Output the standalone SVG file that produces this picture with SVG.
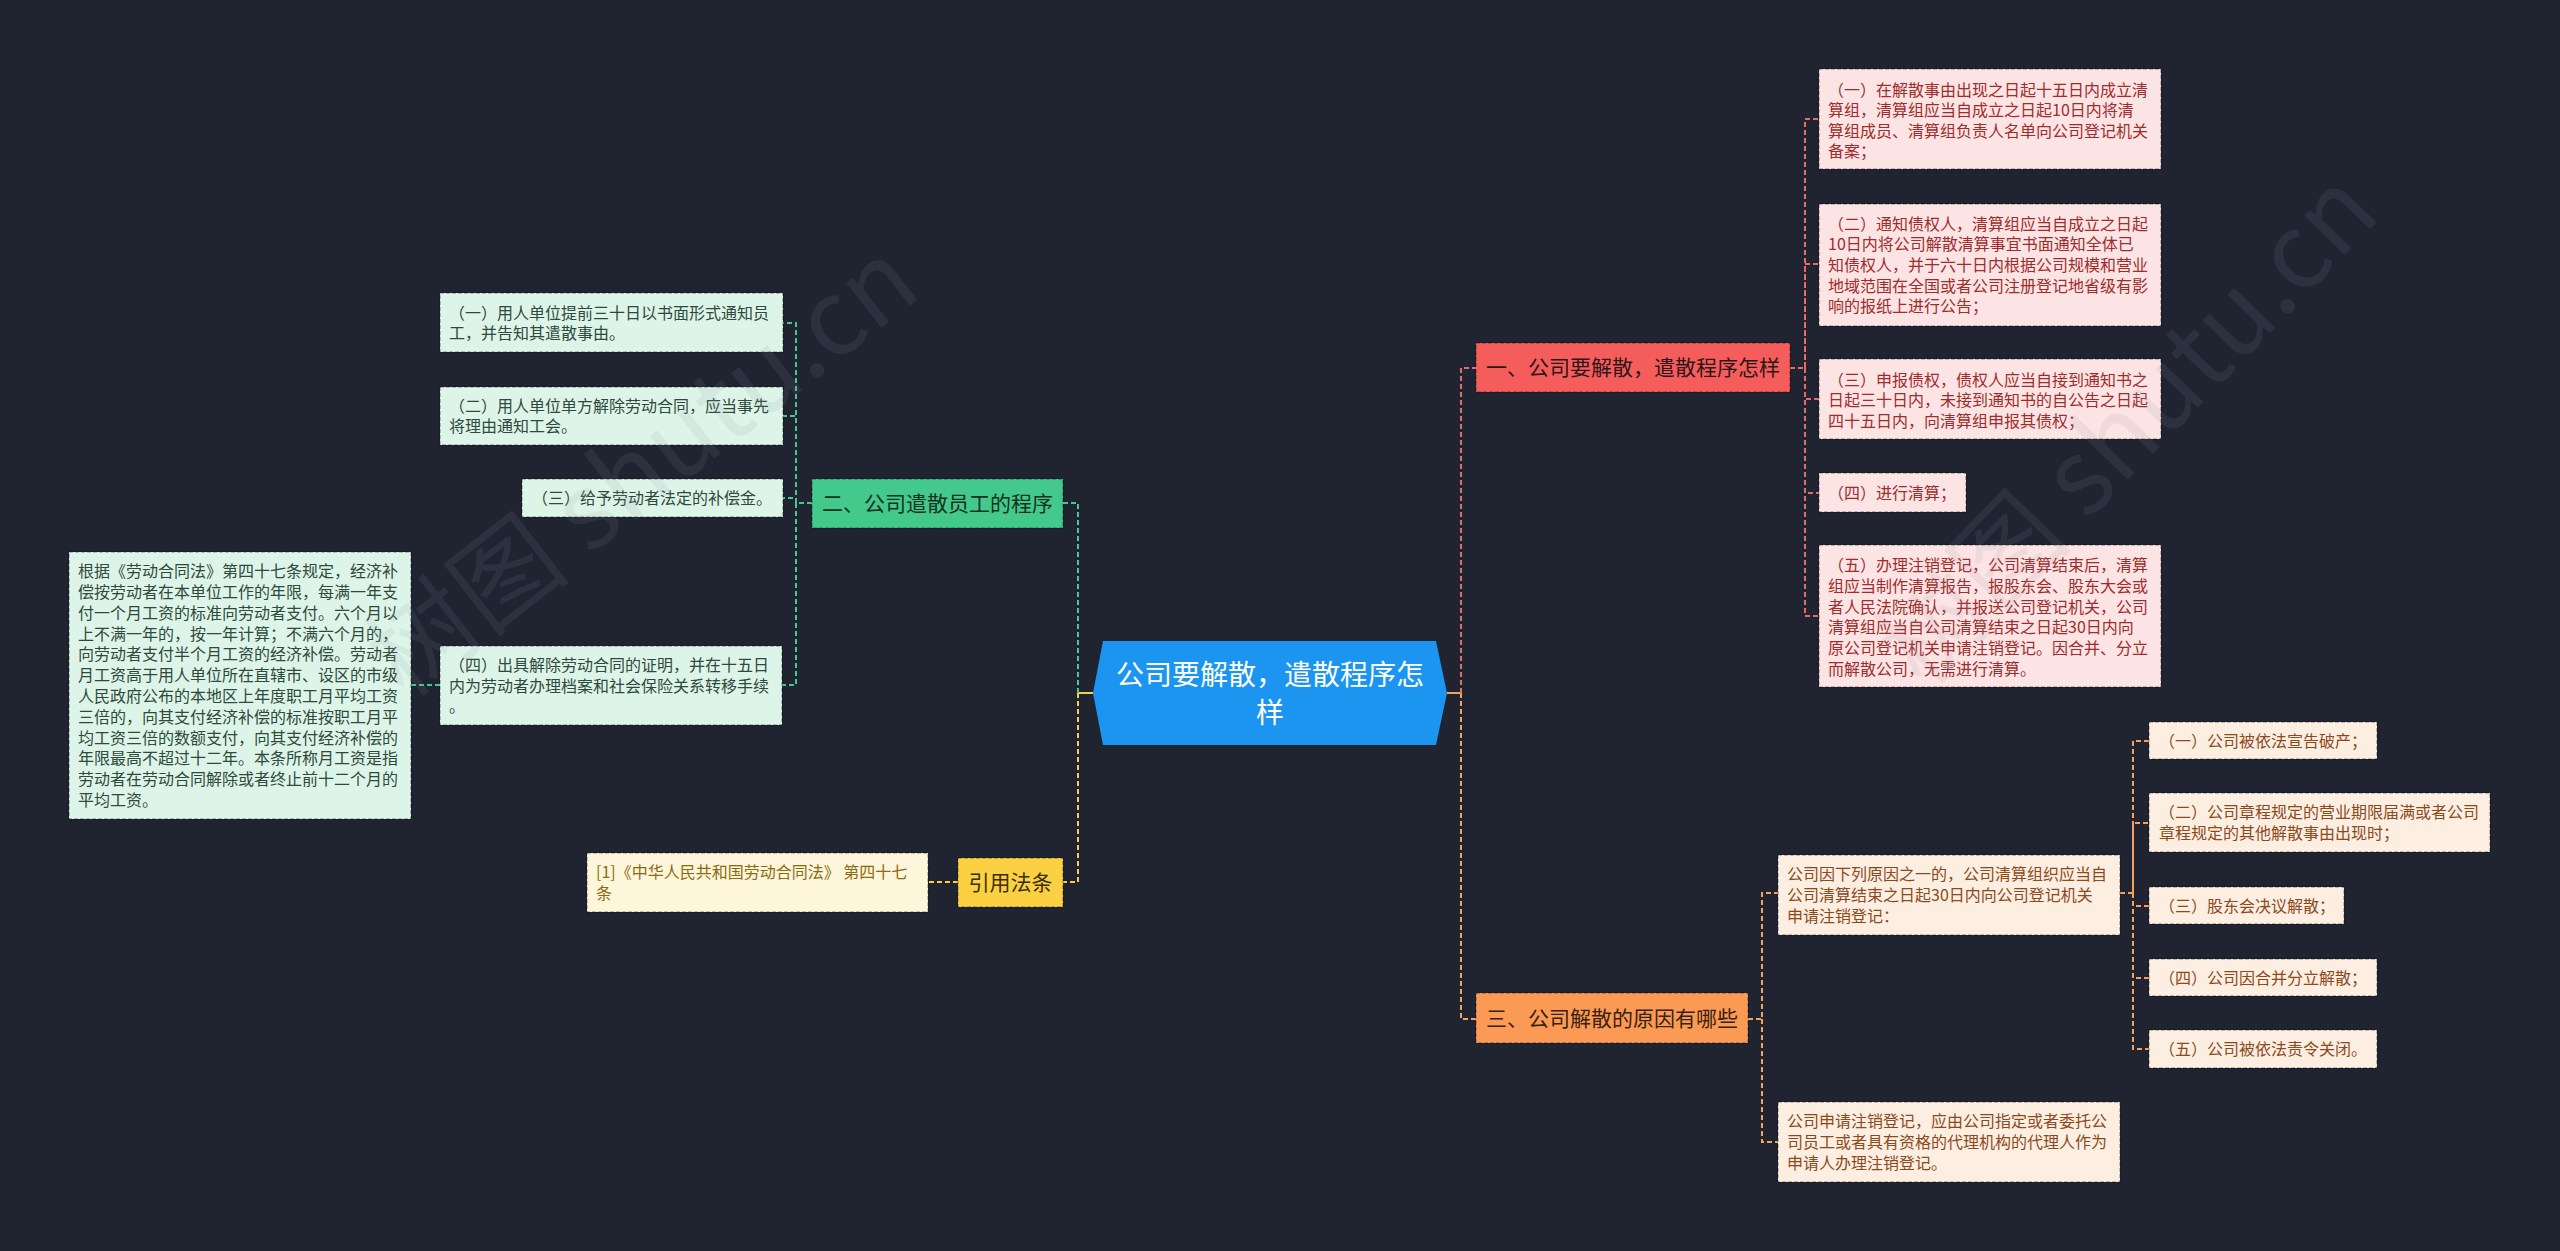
<svg xmlns="http://www.w3.org/2000/svg" width="2560" height="1251" viewBox="0 0 2560 1251">
<style>
text{font-family:"Noto Sans CJK SC","Noto Sans",sans-serif;}
.wm{font-size:105px;fill:#8a8f9c;fill-opacity:0.12;}
.c16{font-size:16px;}
.m21{font-size:21px;}
.box{stroke:#000;stroke-opacity:0.45;stroke-width:1;stroke-dasharray:4 2;}
.rt{fill:#a02c2c;} .rf{fill:#fde4e4;}
.ot{fill:#8c4a1c;} .of{fill:#fdeee2;}
.gt{fill:#2e4a3a;} .gf{fill:#ddf5e9;}
.yt{fill:#8a6c10;} .yf{fill:#fef6da;}
.ln{fill:none;stroke-width:2;stroke-dasharray:5 3;}
.sl{fill:none;stroke-width:2;}
.lr{stroke:#e56a6a;} .lo{stroke:#f4a262;} .lg{stroke:#46c690;} .ly{stroke:#f5cf4a;}
</style>
<rect width="2560" height="1251" fill="#202431"/>

<g id="connectors">
  <path class="sl lo" d="M1447 693 H1461"/>
  <path class="ln lr" d="M1461 693 V368 H1476"/>
  <path class="ln lo" d="M1461 693 V1019 H1476"/>
  <path class="sl ly" d="M1093 693 H1078"/>
  <path class="ln lg" d="M1078 693 V503 H1063"/>
  <path class="ln ly" d="M1078 693 V882 H1063"/>
  <path class="ln lr" d="M1790 368 H1805 V119 H1819"/>
  <path class="ln lr" d="M1805 368 V264 H1819"/>
  <path class="ln lr" d="M1805 368 V399 H1819"/>
  <path class="ln lr" d="M1805 368 V493 H1819"/>
  <path class="ln lr" d="M1805 368 V616 H1819"/>
  <path class="ln lo" d="M1748 1019 H1762 V893 H1778"/>
  <path class="ln lo" d="M1762 1019 V1142 H1778"/>
  <path class="ln lo" d="M2120 893 H2133 V741 H2149"/>
  <path class="ln lo" d="M2133 893 V823 H2149"/>
  <path class="ln lo" d="M2133 893 V906 H2149"/>
  <path class="ln lo" d="M2133 893 V978 H2149"/>
  <path class="ln lo" d="M2133 893 V1049 H2149"/>
  <path class="ln lg" d="M812 503 H796 V323 H783"/>
  <path class="ln lg" d="M796 503 V416 H783"/>
  <path class="ln lg" d="M796 503 V498 H783"/>
  <path class="ln lg" d="M796 503 V685 H782"/>
  <path class="ln lg" d="M440 685 H411"/>
  <path class="ln ly" d="M958 882 H928"/>
</g>

<g id="center">
  <polygon points="1093,693 1103,641 1436,641 1447,693 1436,745 1103,745" fill="#1b95ef"/>
  <text x="1270" y="685" font-size="28" fill="#ffffff" text-anchor="middle">公司要解散，遣散程序怎</text>
  <text x="1270" y="723" font-size="28" fill="#ffffff" text-anchor="middle">样</text>
</g>

<g id="n1">
  <rect class="box" x="1476" y="343" width="314" height="49" fill="#f55d5d"/>
  <text class="m21" x="1633" y="375" fill="#2e1616" text-anchor="middle">一、公司要解散，遣散程序怎样</text>
</g>
<g id="n1-1">
  <rect class="box rf" x="1819" y="69" width="342" height="100"/>
  <text class="c16 rt"><tspan x="1828" y="95.5">（一）在解散事由出现之日起十五日内成立清</tspan><tspan x="1828" y="116">算组，清算组应当自成立之日起10日内将清</tspan><tspan x="1828" y="136.5">算组成员、清算组负责人名单向公司登记机关</tspan><tspan x="1828" y="157">备案；</tspan></text>
</g>
<g id="n1-2">
  <rect class="box rf" x="1819" y="204" width="342" height="122"/>
  <text class="c16 rt"><tspan x="1828" y="229.6">（二）通知债权人，清算组应当自成立之日起</tspan><tspan x="1828" y="250.3">10日内将公司解散清算事宜书面通知全体已</tspan><tspan x="1828" y="271">知债权人，并于六十日内根据公司规模和营业</tspan><tspan x="1828" y="291.7">地域范围在全国或者公司注册登记地省级有影</tspan><tspan x="1828" y="312.4">响的报纸上进行公告；</tspan></text>
</g>
<g id="n1-3">
  <rect class="box rf" x="1819" y="359" width="342" height="80"/>
  <text class="c16 rt"><tspan x="1828" y="385.5">（三）申报债权，债权人应当自接到通知书之</tspan><tspan x="1828" y="406">日起三十日内，未接到通知书的自公告之日起</tspan><tspan x="1828" y="426.5">四十五日内，向清算组申报其债权；</tspan></text>
</g>
<g id="n1-4">
  <rect class="box rf" x="1819" y="473" width="147" height="39"/>
  <text class="c16 rt" x="1828" y="498.5">（四）进行清算；</text>
</g>
<g id="n1-5">
  <rect class="box rf" x="1819" y="545" width="342" height="142"/>
  <text class="c16 rt"><tspan x="1828" y="571">（五）办理注销登记，公司清算结束后，清算</tspan><tspan x="1828" y="592">组应当制作清算报告，报股东会、股东大会或</tspan><tspan x="1828" y="612.5">者人民法院确认，并报送公司登记机关，公司</tspan><tspan x="1828" y="633">清算组应当自公司清算结束之日起30日内向</tspan><tspan x="1828" y="654">原公司登记机关申请注销登记。因合并、分立</tspan><tspan x="1828" y="674.5">而解散公司，无需进行清算。</tspan></text>
</g>

<g id="n3">
  <rect class="box" x="1476" y="993" width="272" height="50" fill="#fb9a55"/>
  <text class="m21" x="1612" y="1025.5" fill="#3a2210" text-anchor="middle">三、公司解散的原因有哪些</text>
</g>
<g id="n3-1">
  <rect class="box of" x="1778" y="855" width="342" height="80"/>
  <text class="c16 ot"><tspan x="1787" y="880">公司因下列原因之一的，公司清算组织应当自</tspan><tspan x="1787" y="901">公司清算结束之日起30日内向公司登记机关</tspan><tspan x="1787" y="922">申请注销登记：</tspan></text>
</g>
<g id="n3-1-1">
  <rect class="box of" x="2149" y="722" width="228" height="37"/>
  <text class="c16 ot" x="2159" y="746.5">（一）公司被依法宣告破产；</text>
</g>
<g id="n3-1-2">
  <rect class="box of" x="2149" y="793" width="341" height="59"/>
  <text class="c16 ot"><tspan x="2159" y="818">（二）公司章程规定的营业期限届满或者公司</tspan><tspan x="2159" y="839">章程规定的其他解散事由出现时；</tspan></text>
</g>
<g id="n3-1-3">
  <rect class="box of" x="2149" y="887" width="195" height="37"/>
  <text class="c16 ot" x="2159" y="911.5">（三）股东会决议解散；</text>
</g>
<g id="n3-1-4">
  <rect class="box of" x="2149" y="959" width="228" height="37"/>
  <text class="c16 ot" x="2159" y="983.5">（四）公司因合并分立解散；</text>
</g>
<g id="n3-1-5">
  <rect class="box of" x="2149" y="1030" width="228" height="38"/>
  <text class="c16 ot" x="2159" y="1055">（五）公司被依法责令关闭。</text>
</g>
<g id="n3-2">
  <rect class="box of" x="1778" y="1102" width="342" height="80"/>
  <text class="c16 ot"><tspan x="1787" y="1127">公司申请注销登记，应由公司指定或者委托公</tspan><tspan x="1787" y="1148">司员工或者具有资格的代理机构的代理人作为</tspan><tspan x="1787" y="1169">申请人办理注销登记。</tspan></text>
</g>

<g id="n2">
  <rect class="box" x="812" y="479" width="251" height="49" fill="#43c98b"/>
  <text class="m21" x="937.5" y="511" fill="#13331f" text-anchor="middle">二、公司遣散员工的程序</text>
</g>
<g id="n2-1">
  <rect class="box gf" x="440" y="293" width="343" height="59"/>
  <text class="c16 gt"><tspan x="449" y="318.5">（一）用人单位提前三十日以书面形式通知员</tspan><tspan x="449" y="339">工，并告知其遣散事由。</tspan></text>
</g>
<g id="n2-2">
  <rect class="box gf" x="440" y="387" width="343" height="58"/>
  <text class="c16 gt"><tspan x="449" y="411.7">（二）用人单位单方解除劳动合同，应当事先</tspan><tspan x="449" y="432.3">将理由通知工会。</tspan></text>
</g>
<g id="n2-3">
  <rect class="box gf" x="522" y="479" width="261" height="38"/>
  <text class="c16 gt" x="532" y="504">（三）给予劳动者法定的补偿金。</text>
</g>
<g id="n2-4">
  <rect class="box gf" x="440" y="646" width="342" height="79"/>
  <text class="c16 gt"><tspan x="449" y="671">（四）出具解除劳动合同的证明，并在十五日</tspan><tspan x="449" y="691.5">内为劳动者办理档案和社会保险关系转移手续</tspan><tspan x="449" y="712">。</tspan></text>
</g>
<g id="n2-4-1">
  <rect class="box gf" x="69" y="552" width="342" height="267"/>
  <text class="c16 gt"><tspan x="78" y="577.1">根据《劳动合同法》第四十七条规定，经济补</tspan><tspan x="78" y="597.9">偿按劳动者在本单位工作的年限，每满一年支</tspan><tspan x="78" y="618.7">付一个月工资的标准向劳动者支付。六个月以</tspan><tspan x="78" y="639.5">上不满一年的，按一年计算；不满六个月的，</tspan><tspan x="78" y="660.3">向劳动者支付半个月工资的经济补偿。劳动者</tspan><tspan x="78" y="681.1">月工资高于用人单位所在直辖市、设区的市级</tspan><tspan x="78" y="701.9">人民政府公布的本地区上年度职工月平均工资</tspan><tspan x="78" y="722.7">三倍的，向其支付经济补偿的标准按职工月平</tspan><tspan x="78" y="743.5">均工资三倍的数额支付，向其支付经济补偿的</tspan><tspan x="78" y="764.3">年限最高不超过十二年。本条所称月工资是指</tspan><tspan x="78" y="785.1">劳动者在劳动合同解除或者终止前十二个月的</tspan><tspan x="78" y="805.9">平均工资。</tspan></text>
</g>

<g id="n4">
  <rect class="box" x="958" y="858" width="105" height="49" fill="#fcd043"/>
  <text class="m21" x="1010.5" y="890" fill="#3a2e05" text-anchor="middle">引用法条</text>
</g>
<g id="n4-1">
  <rect class="box yf" x="587" y="853" width="341" height="59"/>
  <text class="c16 yt"><tspan x="596" y="878">[1]《中华人民共和国劳动合同法》 第四十七</tspan><tspan x="596" y="899">条</tspan></text>
</g>

<g id="watermark">
  <text class="wm" transform="translate(405 700) rotate(-38)">树图 shutu.cn</text>
  <text class="wm" transform="translate(1925 690) rotate(-46)">树图 shutu.cn</text>
</g>
</svg>
